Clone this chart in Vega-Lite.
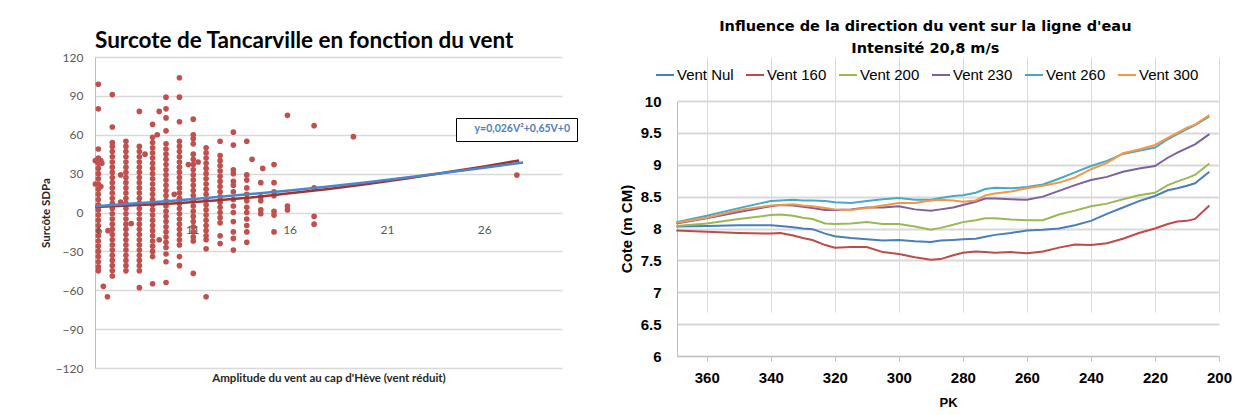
{
  "$schema": "https://vega.github.io/schema/vega-lite/v6.json",
  "background": "white",
  "padding": {"left": 40, "top": 18, "right": 0, "bottom": 0},
  "spacing": 41,
  "config": {"view": {"stroke": null}},
  "resolve": {"scale": {"color": "independent"}, "legend": {"color": "independent"}},
  "datasets": {
    "scatter": [
      {"vent":6.17,"surcote":42},{"vent":6.17,"surcote":38},{"vent":6.17,"surcote":34},{"vent":6.17,"surcote":30},{"vent":6.17,"surcote":26},{"vent":6.17,"surcote":22},{"vent":6.17,"surcote":18},{"vent":6.17,"surcote":14},{"vent":6.17,"surcote":10},{"vent":6.17,"surcote":6},{"vent":6.17,"surcote":2},{"vent":6.17,"surcote":-2},{"vent":6.17,"surcote":-6},{"vent":6.17,"surcote":-10},{"vent":6.17,"surcote":-14},{"vent":6.17,"surcote":-18},{"vent":6.17,"surcote":-22},{"vent":6.17,"surcote":-26},{"vent":6.17,"surcote":-30},{"vent":6.17,"surcote":-34},{"vent":6.17,"surcote":-38},{"vent":6.17,"surcote":-42},{"vent":6.17,"surcote":-45},{"vent":6.17,"surcote":99},{"vent":6.17,"surcote":80},{"vent":6.17,"surcote":49},
      {"vent":6.02,"surcote":40},{"vent":6.02,"surcote":22},{"vent":6.3,"surcote":40},{"vent":6.35,"surcote":38},{"vent":6.3,"surcote":20},{"vent":6.43,"surcote":-57},{"vent":6.64,"surcote":-65},{"vent":6.67,"surcote":-14},
      {"vent":6.89,"surcote":54},{"vent":6.89,"surcote":51},{"vent":6.89,"surcote":47},{"vent":6.89,"surcote":43},{"vent":6.89,"surcote":39},{"vent":6.89,"surcote":35},{"vent":6.89,"surcote":31},{"vent":6.89,"surcote":27},{"vent":6.89,"surcote":23},{"vent":6.89,"surcote":19},{"vent":6.89,"surcote":15},{"vent":6.89,"surcote":11},{"vent":6.89,"surcote":7},{"vent":6.89,"surcote":3},{"vent":6.89,"surcote":-1},{"vent":6.89,"surcote":-5},{"vent":6.89,"surcote":-9},{"vent":6.89,"surcote":-13},{"vent":6.89,"surcote":-17},{"vent":6.89,"surcote":-21},{"vent":6.89,"surcote":-25},{"vent":6.89,"surcote":-29},{"vent":6.89,"surcote":-33},{"vent":6.89,"surcote":-37},{"vent":6.89,"surcote":-41},{"vent":6.89,"surcote":-45},{"vent":6.89,"surcote":-49},{"vent":6.89,"surcote":91},{"vent":6.89,"surcote":66},
      {"vent":7.59,"surcote":55},{"vent":7.59,"surcote":51},{"vent":7.59,"surcote":47},{"vent":7.59,"surcote":43},{"vent":7.59,"surcote":39},{"vent":7.59,"surcote":35},{"vent":7.59,"surcote":31},{"vent":7.59,"surcote":27},{"vent":7.59,"surcote":23},{"vent":7.59,"surcote":19},{"vent":7.59,"surcote":15},{"vent":7.59,"surcote":11},{"vent":7.59,"surcote":7},{"vent":7.59,"surcote":3},{"vent":7.59,"surcote":-1},{"vent":7.59,"surcote":-5},{"vent":7.59,"surcote":-9},{"vent":7.59,"surcote":-13},{"vent":7.59,"surcote":-17},{"vent":7.59,"surcote":-21},{"vent":7.59,"surcote":-25},{"vent":7.59,"surcote":-29},{"vent":7.59,"surcote":-33},{"vent":7.59,"surcote":-37},{"vent":7.59,"surcote":-41},{"vent":7.59,"surcote":-45},
      {"vent":7.32,"surcote":29},{"vent":7.32,"surcote":8},{"vent":7.86,"surcote":-8.5},
      {"vent":8.28,"surcote":51},{"vent":8.28,"surcote":47},{"vent":8.28,"surcote":43},{"vent":8.28,"surcote":39},{"vent":8.28,"surcote":35},{"vent":8.28,"surcote":31},{"vent":8.28,"surcote":27},{"vent":8.28,"surcote":23},{"vent":8.28,"surcote":19},{"vent":8.28,"surcote":15},{"vent":8.28,"surcote":11},{"vent":8.28,"surcote":7},{"vent":8.28,"surcote":3},{"vent":8.28,"surcote":-1},{"vent":8.28,"surcote":-5},{"vent":8.28,"surcote":-9},{"vent":8.28,"surcote":-13},{"vent":8.28,"surcote":-17},{"vent":8.28,"surcote":-21},{"vent":8.28,"surcote":-25},{"vent":8.28,"surcote":-29},{"vent":8.28,"surcote":-33},{"vent":8.28,"surcote":-37},{"vent":8.28,"surcote":-41},{"vent":8.28,"surcote":-45},{"vent":8.28,"surcote":78},{"vent":8.28,"surcote":-58},
      {"vent":8.57,"surcote":45},
      {"vent":8.96,"surcote":58},{"vent":8.96,"surcote":54},{"vent":8.96,"surcote":50},{"vent":8.96,"surcote":46},{"vent":8.96,"surcote":42},{"vent":8.96,"surcote":38},{"vent":8.96,"surcote":34},{"vent":8.96,"surcote":30},{"vent":8.96,"surcote":26},{"vent":8.96,"surcote":22},{"vent":8.96,"surcote":18},{"vent":8.96,"surcote":14},{"vent":8.96,"surcote":10},{"vent":8.96,"surcote":6},{"vent":8.96,"surcote":2},{"vent":8.96,"surcote":-2},{"vent":8.96,"surcote":-6},{"vent":8.96,"surcote":-10},{"vent":8.96,"surcote":-14},{"vent":8.96,"surcote":-18},{"vent":8.96,"surcote":-22},{"vent":8.96,"surcote":-26},{"vent":8.96,"surcote":-30},{"vent":8.96,"surcote":-34},{"vent":8.96,"surcote":68},{"vent":8.96,"surcote":-55},
      {"vent":9.3,"surcote":78},{"vent":9.2,"surcote":60},{"vent":9.3,"surcote":-21},
      {"vent":9.65,"surcote":53},{"vent":9.65,"surcote":49},{"vent":9.65,"surcote":45},{"vent":9.65,"surcote":41},{"vent":9.65,"surcote":37},{"vent":9.65,"surcote":33},{"vent":9.65,"surcote":29},{"vent":9.65,"surcote":25},{"vent":9.65,"surcote":21},{"vent":9.65,"surcote":17},{"vent":9.65,"surcote":13},{"vent":9.65,"surcote":9},{"vent":9.65,"surcote":5},{"vent":9.65,"surcote":1},{"vent":9.65,"surcote":-3},{"vent":9.65,"surcote":-7},{"vent":9.65,"surcote":-11},{"vent":9.65,"surcote":-15},{"vent":9.65,"surcote":-19},{"vent":9.65,"surcote":-23},{"vent":9.65,"surcote":-27},{"vent":9.65,"surcote":89},{"vent":9.65,"surcote":80},{"vent":9.65,"surcote":73},{"vent":9.65,"surcote":63},{"vent":9.65,"surcote":-32},{"vent":9.65,"surcote":-38},{"vent":9.65,"surcote":-54},
      {"vent":10.34,"surcote":55},{"vent":10.34,"surcote":51},{"vent":10.34,"surcote":47},{"vent":10.34,"surcote":43},{"vent":10.34,"surcote":39},{"vent":10.34,"surcote":35},{"vent":10.34,"surcote":31},{"vent":10.34,"surcote":27},{"vent":10.34,"surcote":23},{"vent":10.34,"surcote":19},{"vent":10.34,"surcote":15},{"vent":10.34,"surcote":11},{"vent":10.34,"surcote":7},{"vent":10.34,"surcote":3},{"vent":10.34,"surcote":-1},{"vent":10.34,"surcote":-5},{"vent":10.34,"surcote":-9},{"vent":10.34,"surcote":-13},{"vent":10.34,"surcote":-17},{"vent":10.34,"surcote":-21},{"vent":10.34,"surcote":-25},{"vent":10.34,"surcote":104},{"vent":10.34,"surcote":89},{"vent":10.34,"surcote":70},{"vent":10.34,"surcote":-34},{"vent":10.34,"surcote":-41},
      {"vent":10.07,"surcote":14},
      {"vent":11.05,"surcote":45},{"vent":11.05,"surcote":41},{"vent":11.05,"surcote":37},{"vent":11.05,"surcote":33},{"vent":11.05,"surcote":29},{"vent":11.05,"surcote":25},{"vent":11.05,"surcote":21},{"vent":11.05,"surcote":17},{"vent":11.05,"surcote":13},{"vent":11.05,"surcote":9},{"vent":11.05,"surcote":5},{"vent":11.05,"surcote":1},{"vent":11.05,"surcote":-3},{"vent":11.05,"surcote":-7},{"vent":11.05,"surcote":-11},{"vent":11.05,"surcote":-15},{"vent":11.05,"surcote":-19},{"vent":11.05,"surcote":-22},{"vent":11.05,"surcote":72},{"vent":11.05,"surcote":60},{"vent":11.05,"surcote":57},{"vent":11.05,"surcote":53},{"vent":11.05,"surcote":-47},
      {"vent":10.8,"surcote":37},{"vent":11.3,"surcote":39},
      {"vent":11.71,"surcote":50},{"vent":11.71,"surcote":46},{"vent":11.71,"surcote":42},{"vent":11.71,"surcote":38},{"vent":11.71,"surcote":34},{"vent":11.71,"surcote":30},{"vent":11.71,"surcote":26},{"vent":11.71,"surcote":22},{"vent":11.71,"surcote":18},{"vent":11.71,"surcote":14},{"vent":11.71,"surcote":10},{"vent":11.71,"surcote":6},{"vent":11.71,"surcote":2},{"vent":11.71,"surcote":-2},{"vent":11.71,"surcote":-6},{"vent":11.71,"surcote":-10},{"vent":11.71,"surcote":-14},{"vent":11.71,"surcote":-18},{"vent":11.71,"surcote":-21},{"vent":11.71,"surcote":-28},{"vent":11.71,"surcote":-65},
      {"vent":12.43,"surcote":55},{"vent":12.43,"surcote":44},{"vent":12.43,"surcote":40},{"vent":12.43,"surcote":36},{"vent":12.43,"surcote":32},{"vent":12.43,"surcote":28},{"vent":12.43,"surcote":24},{"vent":12.43,"surcote":20},{"vent":12.43,"surcote":16},{"vent":12.43,"surcote":12},{"vent":12.43,"surcote":8},{"vent":12.43,"surcote":4},{"vent":12.43,"surcote":0},{"vent":12.43,"surcote":-4},{"vent":12.43,"surcote":-8},{"vent":12.43,"surcote":-18},{"vent":12.43,"surcote":-24},
      {"vent":13.11,"surcote":62},{"vent":13.11,"surcote":52},{"vent":13.11,"surcote":33},{"vent":13.11,"surcote":30},{"vent":13.11,"surcote":24},{"vent":13.11,"surcote":21},{"vent":13.11,"surcote":16},{"vent":13.11,"surcote":10},{"vent":13.11,"surcote":5},{"vent":13.11,"surcote":0},{"vent":13.11,"surcote":-7},{"vent":13.11,"surcote":-15},{"vent":13.11,"surcote":-20},{"vent":13.11,"surcote":-29},
      {"vent":13.8,"surcote":55},{"vent":13.8,"surcote":29},{"vent":13.8,"surcote":25},{"vent":13.8,"surcote":19},{"vent":13.8,"surcote":14},{"vent":13.8,"surcote":9},{"vent":13.8,"surcote":4},{"vent":13.8,"surcote":0},{"vent":13.8,"surcote":-5},{"vent":13.8,"surcote":-10},{"vent":13.8,"surcote":-15},{"vent":13.8,"surcote":-23},
      {"vent":14.52,"surcote":23},{"vent":14.52,"surcote":12},{"vent":14.52,"surcote":9},{"vent":14.52,"surcote":2},{"vent":14.52,"surcote":-1},
      {"vent":14.07,"surcote":41},{"vent":14.62,"surcote":34},
      {"vent":15.2,"surcote":37},{"vent":15.2,"surcote":23},{"vent":15.2,"surcote":16},{"vent":15.2,"surcote":13},{"vent":15.2,"surcote":1},{"vent":15.2,"surcote":-2},{"vent":15.2,"surcote":-15},
      {"vent":15.89,"surcote":75},{"vent":15.89,"surcote":5},{"vent":15.89,"surcote":2},
      {"vent":17.26,"surcote":67},{"vent":17.26,"surcote":19},{"vent":17.26,"surcote":-3},{"vent":17.26,"surcote":-9},
      {"vent":19.28,"surcote":58.5},{"vent":27.68,"surcote":28.9}
    ],
    "trendRed": [
      {"vent":6,"surcote":4.3},{"vent":8,"surcote":5.5},{"vent":10,"surcote":7},{"vent":12,"surcote":9},{"vent":14,"surcote":11.5},{"vent":16,"surcote":14.8},{"vent":18,"surcote":18.2},{"vent":20,"surcote":22},{"vent":22,"surcote":26.3},{"vent":24,"surcote":30.8},{"vent":26,"surcote":35.5},{"vent":27.8,"surcote":40.2}
    ],
    "trendBlue": [
      {"vent":6,"surcote":4.8},{"vent":8,"surcote":6.9},{"vent":10,"surcote":9.1},{"vent":12,"surcote":11.5},{"vent":14,"surcote":14.2},{"vent":16,"surcote":17},{"vent":18,"surcote":20.1},{"vent":20,"surcote":23.4},{"vent":22,"surcote":27},{"vent":24,"surcote":30.6},{"vent":26,"surcote":34.5},{"vent":28,"surcote":38.6}
    ],
    "lignes": [
      {"PK":369.5,"Vent Nul":8.03,"Vent 160":7.97,"Vent 200":8.04,"Vent 230":8.08,"Vent 260":8.10,"Vent 300":8.09},
      {"PK":360,"Vent Nul":8.04,"Vent 160":7.95,"Vent 200":8.08,"Vent 230":8.16,"Vent 260":8.20,"Vent 300":8.17},
      {"PK":350,"Vent Nul":8.05,"Vent 160":7.93,"Vent 200":8.15,"Vent 230":8.26,"Vent 260":8.32,"Vent 300":8.29},
      {"PK":340,"Vent Nul":8.05,"Vent 160":7.92,"Vent 200":8.21,"Vent 230":8.35,"Vent 260":8.43,"Vent 300":8.36},
      {"PK":337,"Vent Nul":8.04,"Vent 160":7.93,"Vent 200":8.22,"Vent 230":8.37,"Vent 260":8.44,"Vent 300":8.37},
      {"PK":333,"Vent Nul":8.02,"Vent 160":7.89,"Vent 200":8.20,"Vent 230":8.36,"Vent 260":8.45,"Vent 300":8.38},
      {"PK":330,"Vent Nul":8.00,"Vent 160":7.85,"Vent 200":8.17,"Vent 230":8.34,"Vent 260":8.44,"Vent 300":8.36},
      {"PK":327,"Vent Nul":7.99,"Vent 160":7.82,"Vent 200":8.15,"Vent 230":8.32,"Vent 260":8.44,"Vent 300":8.35},
      {"PK":323,"Vent Nul":7.92,"Vent 160":7.74,"Vent 200":8.08,"Vent 230":8.29,"Vent 260":8.43,"Vent 300":8.32},
      {"PK":320,"Vent Nul":7.88,"Vent 160":7.70,"Vent 200":8.07,"Vent 230":8.29,"Vent 260":8.41,"Vent 300":8.30},
      {"PK":315,"Vent Nul":7.85,"Vent 160":7.71,"Vent 200":8.08,"Vent 230":8.30,"Vent 260":8.40,"Vent 300":8.29},
      {"PK":310,"Vent Nul":7.83,"Vent 160":7.71,"Vent 200":8.10,"Vent 230":8.33,"Vent 260":8.43,"Vent 300":8.32},
      {"PK":305,"Vent Nul":7.81,"Vent 160":7.63,"Vent 200":8.07,"Vent 230":8.33,"Vent 260":8.46,"Vent 300":8.36},
      {"PK":300,"Vent Nul":7.82,"Vent 160":7.60,"Vent 200":8.07,"Vent 230":8.35,"Vent 260":8.48,"Vent 300":8.40},
      {"PK":295,"Vent Nul":7.80,"Vent 160":7.55,"Vent 200":8.03,"Vent 230":8.30,"Vent 260":8.45,"Vent 300":8.40},
      {"PK":290,"Vent Nul":7.79,"Vent 160":7.51,"Vent 200":7.98,"Vent 230":8.28,"Vent 260":8.45,"Vent 300":8.44},
      {"PK":287,"Vent Nul":7.81,"Vent 160":7.52,"Vent 200":8.01,"Vent 230":8.30,"Vent 260":8.48,"Vent 300":8.45},
      {"PK":283,"Vent Nul":7.82,"Vent 160":7.58,"Vent 200":8.06,"Vent 230":8.33,"Vent 260":8.51,"Vent 300":8.44},
      {"PK":280,"Vent Nul":7.83,"Vent 160":7.62,"Vent 200":8.10,"Vent 230":8.37,"Vent 260":8.52,"Vent 300":8.42},
      {"PK":276,"Vent Nul":7.84,"Vent 160":7.64,"Vent 200":8.13,"Vent 230":8.42,"Vent 260":8.56,"Vent 300":8.44},
      {"PK":273,"Vent Nul":7.87,"Vent 160":7.63,"Vent 200":8.16,"Vent 230":8.47,"Vent 260":8.62,"Vent 300":8.52},
      {"PK":270,"Vent Nul":7.90,"Vent 160":7.62,"Vent 200":8.16,"Vent 230":8.47,"Vent 260":8.64,"Vent 300":8.55},
      {"PK":265,"Vent Nul":7.93,"Vent 160":7.63,"Vent 200":8.14,"Vent 230":8.46,"Vent 260":8.63,"Vent 300":8.58},
      {"PK":260,"Vent Nul":7.97,"Vent 160":7.61,"Vent 200":8.13,"Vent 230":8.45,"Vent 260":8.65,"Vent 300":8.63},
      {"PK":255,"Vent Nul":7.98,"Vent 160":7.64,"Vent 200":8.13,"Vent 230":8.50,"Vent 260":8.69,"Vent 300":8.67},
      {"PK":250,"Vent Nul":8.00,"Vent 160":7.70,"Vent 200":8.22,"Vent 230":8.59,"Vent 260":8.78,"Vent 300":8.72},
      {"PK":245,"Vent Nul":8.05,"Vent 160":7.75,"Vent 200":8.28,"Vent 230":8.68,"Vent 260":8.88,"Vent 300":8.80},
      {"PK":240,"Vent Nul":8.12,"Vent 160":7.74,"Vent 200":8.35,"Vent 230":8.76,"Vent 260":8.98,"Vent 300":8.93},
      {"PK":235,"Vent Nul":8.23,"Vent 160":7.77,"Vent 200":8.39,"Vent 230":8.81,"Vent 260":9.06,"Vent 300":9.03},
      {"PK":230,"Vent Nul":8.33,"Vent 160":7.84,"Vent 200":8.46,"Vent 230":8.89,"Vent 260":9.17,"Vent 300":9.18},
      {"PK":225,"Vent Nul":8.43,"Vent 160":7.93,"Vent 200":8.52,"Vent 230":8.94,"Vent 260":9.22,"Vent 300":9.24},
      {"PK":220,"Vent Nul":8.51,"Vent 160":8.00,"Vent 200":8.56,"Vent 230":8.98,"Vent 260":9.27,"Vent 300":9.31},
      {"PK":216,"Vent Nul":8.60,"Vent 160":8.07,"Vent 200":8.68,"Vent 230":9.11,"Vent 260":9.40,"Vent 300":9.42},
      {"PK":213,"Vent Nul":8.63,"Vent 160":8.11,"Vent 200":8.74,"Vent 230":9.19,"Vent 260":9.48,"Vent 300":9.50},
      {"PK":210,"Vent Nul":8.67,"Vent 160":8.12,"Vent 200":8.79,"Vent 230":9.26,"Vent 260":9.56,"Vent 300":9.58},
      {"PK":207.5,"Vent Nul":8.71,"Vent 160":8.15,"Vent 200":8.84,"Vent 230":9.32,"Vent 260":9.62,"Vent 300":9.63},
      {"PK":203,"Vent Nul":8.89,"Vent 160":8.36,"Vent 200":9.02,"Vent 230":9.48,"Vent 260":9.76,"Vent 300":9.78}
    ]
  },
  "hconcat": [
    {
      "width": 467,
      "height": 311,
      "title": {"text": "Surcote de Tancarville en fonction du vent", "anchor": "start", "frame": "group", "font": "Lato", "fontSize": 22.5, "fontWeight": "bold", "color": "#000000", "offset": -1},
      "encoding": {
        "x": {"field": "vent", "type": "quantitative", "scale": {"domain": [6, 30], "nice": false, "zero": false},
          "axis": {"values": [6, 11, 16, 21, 26], "offset": -155.5, "zindex": 1, "grid": false, "ticks": false, "domain": false, "labelOverlap": false, "labelFont": "Lato", "labelFontSize": 12, "labelColor": "#595959", "labelPadding": 12,
            "title": "Amplitude du vent au cap d'Hève (vent réduit)", "titleFont": "Lato", "titleFontSize": 11.5, "titleFontWeight": "bold", "titleColor": "#262626", "titleY": 165.5, "titleBaseline": "middle"}},
        "y": {"field": "surcote", "type": "quantitative", "scale": {"domain": [-120, 120], "nice": false, "zero": false},
          "axis": {"values": [-120, -90, -60, -30, 0, 30, 60, 90, 120], "labelOverlap": false, "grid": true, "gridColor": "#D9D9D9", "gridWidth": 1.3, "domain": true, "domainColor": "#BFBFBF", "ticks": false, "labelPadding": 12, "labelFont": "Lato", "labelFontSize": 12, "labelColor": "#595959",
            "title": "Surcôte SDPa", "titleFont": "Lato", "titleFontSize": 11.5, "titleFontWeight": "bold", "titleColor": "#262626", "titlePadding": 4}}
      },
      "layer": [
        {
          "data": {"name": "scatter"},
          "mark": {"type": "circle", "size": 32, "opacity": 1, "color": "#C0504D"}
        },
        {
          "data": {"name": "trendRed"},
          "mark": {"type": "line", "strokeWidth": 2.5, "color": "#A3322F"}
        },
        {
          "data": {"name": "trendBlue"},
          "mark": {"type": "line", "strokeWidth": 2.5},
          "encoding": {
            "color": {"datum": "y=0,026V²+0,65V+0", "type": "nominal", "scale": {"range": ["#4A86C8"]},
              "legend": {"orient": "none", "legendX": 361, "legendY": 61, "title": null, "symbolOpacity": 0, "symbolSize": 36, "symbolStrokeWidth": 0, "labelOffset": 2, "padding": 6, "strokeColor": "#000000", "fillColor": "white", "labelFont": "Lato", "labelFontSize": 10.5, "labelFontWeight": "bold", "labelColor": "#4F81BD"}}
          }
        }
      ]
    },
    {
      "width": 542,
      "height": 299,
      "data": {"name": "lignes"},
      "transform": [{"fold": ["Vent Nul", "Vent 160", "Vent 200", "Vent 230", "Vent 260", "Vent 300"], "as": ["serie", "cote"]}],
      "title": {"text": ["Influence de la direction du vent sur la ligne d'eau", "Intensité 20,8 m/s"], "anchor": "middle", "frame": "bounds", "font": "DejaVu Sans", "fontSize": 14.5, "fontWeight": "bold", "lineHeight": 22, "color": "#000000", "offset": 1},
      "mark": {"type": "line", "strokeWidth": 2},
      "encoding": {
        "x": {"field": "PK", "type": "quantitative", "scale": {"domain": [200, 369.3], "reverse": true, "nice": false, "zero": false},
          "axis": {"values": [360, 340, 320, 300, 280, 260, 240, 220, 200], "grid": true, "gridColor": "#D9D9D9", "domainColor": "#BFBFBF", "tickColor": "#BFBFBF", "tickSize": 5, "labelFont": "Liberation Sans", "labelFontSize": 15, "labelFontWeight": "bold", "labelColor": "#000000", "labelPadding": 9, "labelFlush": false,
            "title": "PK", "titleFont": "Liberation Sans", "titleFontSize": 13, "titleFontWeight": "bold", "titleColor": "#000000", "titlePadding": 11}},
        "y": {"field": "cote", "type": "quantitative", "scale": {"domain": [6, 10], "nice": false, "zero": false, "range": [299, 44]},
          "axis": {"values": [6, 6.5, 7, 7.5, 8, 8.5, 9, 9.5, 10], "format": "~g", "grid": true, "gridColor": "#D9D9D9", "gridWidth": 2, "domainColor": "#BFBFBF", "ticks": false, "labelPadding": 16, "labelFlush": false, "labelFont": "Liberation Sans", "labelFontSize": 15, "labelFontWeight": "bold", "labelColor": "#000000",
            "title": "Cote (m CM)", "titleFont": "Liberation Sans", "titleFontSize": 15, "titleFontWeight": "bold", "titleColor": "#000000", "titlePadding": 6}},
        "color": {"field": "serie", "type": "nominal",
          "scale": {"domain": ["Vent Nul", "Vent 160", "Vent 200", "Vent 230", "Vent 260", "Vent 300"], "range": ["#4A7EBB", "#BE4B48", "#98B954", "#7D60A0", "#46AAC5", "#F79646"]},
          "legend": {"orient": "none", "legendX": -22, "legendY": 8, "direction": "horizontal", "columns": 6, "symbolType": "stroke", "symbolSize": 324, "symbolStrokeWidth": 2, "labelFont": "Liberation Sans", "labelFontSize": 15, "labelColor": "#000000", "columnPadding": 8, "labelOffset": 2, "title": null}}
      }
    }
  ]
}
